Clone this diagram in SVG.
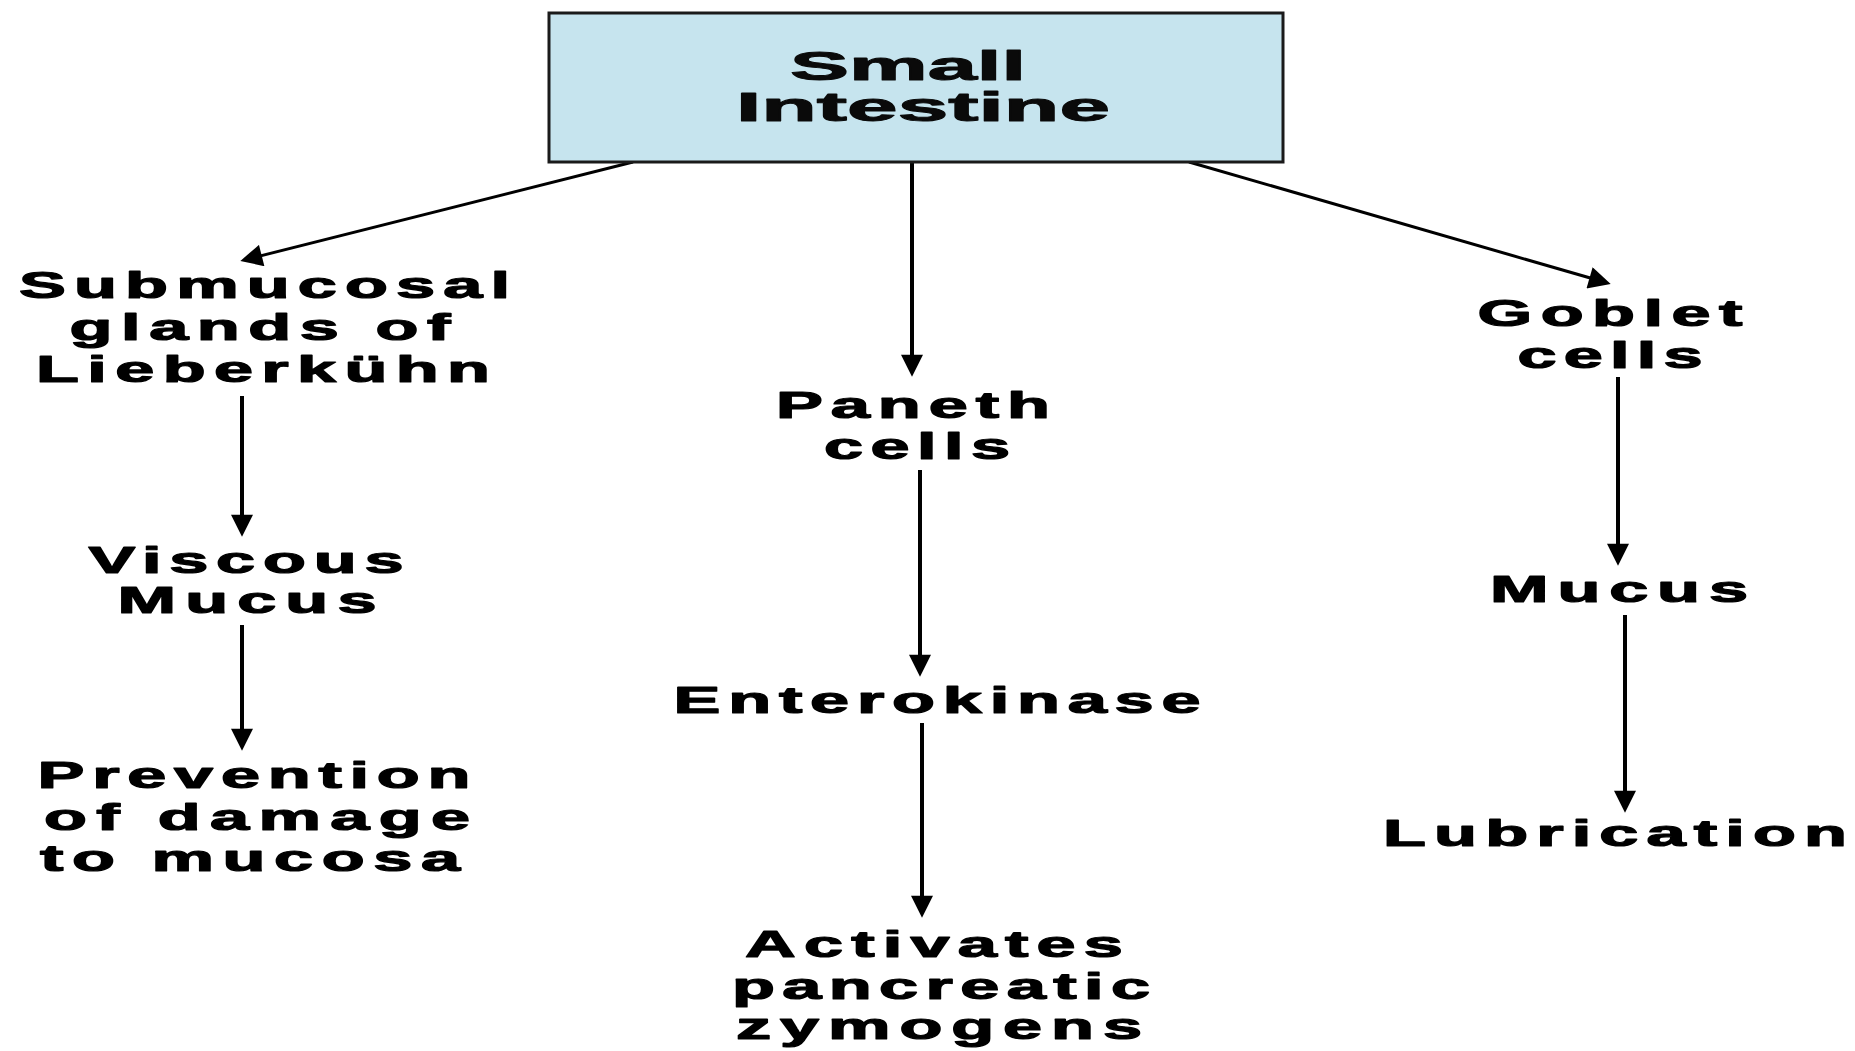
<svg xmlns="http://www.w3.org/2000/svg" width="1855" height="1051" viewBox="0 0 1855 1051">
<style>
.bg{fill:#ffffff}
.box{fill:#c6e4ee;stroke:#1a1a1a;stroke-width:3}
.t{font-family:"Liberation Sans",Arial,sans-serif;font-weight:bold;font-size:37px;fill:#000;stroke:#000;stroke-width:1.2;stroke-linejoin:round;text-anchor:middle}
.tt{font-family:"Liberation Sans",Arial,sans-serif;font-weight:bold;font-size:40px;fill:#0a0a0a;stroke:#0a0a0a;stroke-width:1;stroke-linejoin:round;text-anchor:middle}
.c{stroke:#000;stroke-width:4;fill:none;marker-end:url(#ah)}
.d{stroke:#000;stroke-width:3;fill:none;marker-end:url(#ah)}
</style>
<defs>
<marker id="ah" viewBox="0 0 10 10" markerWidth="23" markerHeight="22" markerUnits="userSpaceOnUse" refX="6.5" refY="5" orient="auto">
<path d="M0,0 L10,5 L0,10 z" fill="#000"/>
</marker>
</defs>
<rect class="bg" x="0" y="0" width="1855" height="1051"/>
<g id="connectors">
<line class="d" x1="633" y1="162" x2="247.8" y2="259"/>
<line class="c" x1="912" y1="162" x2="912" y2="369"/>
<line class="d" x1="1189" y1="162" x2="1603.3" y2="281.8"/>
<line class="c" x1="242" y1="396" x2="242" y2="529"/>
<line class="c" x1="242" y1="625" x2="242" y2="743"/>
<line class="c" x1="920" y1="470" x2="920" y2="669"/>
<line class="c" x1="922" y1="723" x2="922" y2="910"/>
<line class="c" x1="1618" y1="377" x2="1618" y2="558"/>
<line class="c" x1="1625" y1="615" x2="1625" y2="805"/>
</g>
<g id="small-intestine">
<rect class="box" x="549" y="13" width="734" height="149"/>
<text class="tt" x="908" y="80" textLength="236" lengthAdjust="spacingAndGlyphs">Small</text>
<text class="tt" x="923" y="121" textLength="374" lengthAdjust="spacingAndGlyphs">Intestine</text>
</g>
<g id="submucosal-glands">
<text class="t" transform="translate(264.5,298) scale(1.9,1)" textLength="258.4" lengthAdjust="spacing">Submucosal</text>
<text class="t" transform="translate(260,340) scale(1.9,1)" textLength="200.5" lengthAdjust="spacing">glands of</text>
<text class="t" transform="translate(263,382) scale(1.9,1)" textLength="238.9" lengthAdjust="spacing">Lieberkühn</text>
</g>
<g id="viscous-mucus">
<text class="t" transform="translate(246,573) scale(1.9,1)" textLength="165.8" lengthAdjust="spacing">Viscous</text>
<text class="t" transform="translate(247,613) scale(1.9,1)" textLength="136.3" lengthAdjust="spacing">Mucus</text>
</g>
<g id="prevention">
<text class="t" transform="translate(254,788) scale(1.9,1)" textLength="227.9" lengthAdjust="spacing">Prevention</text>
<text class="t" transform="translate(257,830) scale(1.9,1)" textLength="224.2" lengthAdjust="spacing">of damage</text>
<text class="t" transform="translate(250,871) scale(1.9,1)" textLength="221.1" lengthAdjust="spacing">to mucosa</text>
</g>
<g id="paneth-cells">
<text class="t" transform="translate(913,418) scale(1.9,1)" textLength="144.2" lengthAdjust="spacing">Paneth</text>
<text class="t" transform="translate(917,459) scale(1.9,1)" textLength="97.9" lengthAdjust="spacing">cells</text>
</g>
<g id="enterokinase">
<text class="t" transform="translate(937,713) scale(1.9,1)" textLength="277.4" lengthAdjust="spacing">Enterokinase</text>
</g>
<g id="activates-zymogens">
<text class="t" transform="translate(934,957) scale(1.9,1)" textLength="198.9" lengthAdjust="spacing">Activates</text>
<text class="t" transform="translate(941,999) scale(1.9,1)" textLength="220" lengthAdjust="spacing">pancreatic</text>
<text class="t" transform="translate(939,1039) scale(1.9,1)" textLength="213.7" lengthAdjust="spacing">zymogens</text>
</g>
<g id="goblet-cells">
<text class="t" transform="translate(1610,326) scale(1.9,1)" textLength="139.5" lengthAdjust="spacing">Goblet</text>
<text class="t" transform="translate(1610,368) scale(1.9,1)" textLength="97.4" lengthAdjust="spacing">cells</text>
</g>
<g id="mucus">
<text class="t" transform="translate(1619,602) scale(1.9,1)" textLength="135.8" lengthAdjust="spacing">Mucus</text>
</g>
<g id="lubrication">
<text class="t" transform="translate(1615,846) scale(1.9,1)" textLength="244.2" lengthAdjust="spacing">Lubrication</text>
</g>
</svg>
